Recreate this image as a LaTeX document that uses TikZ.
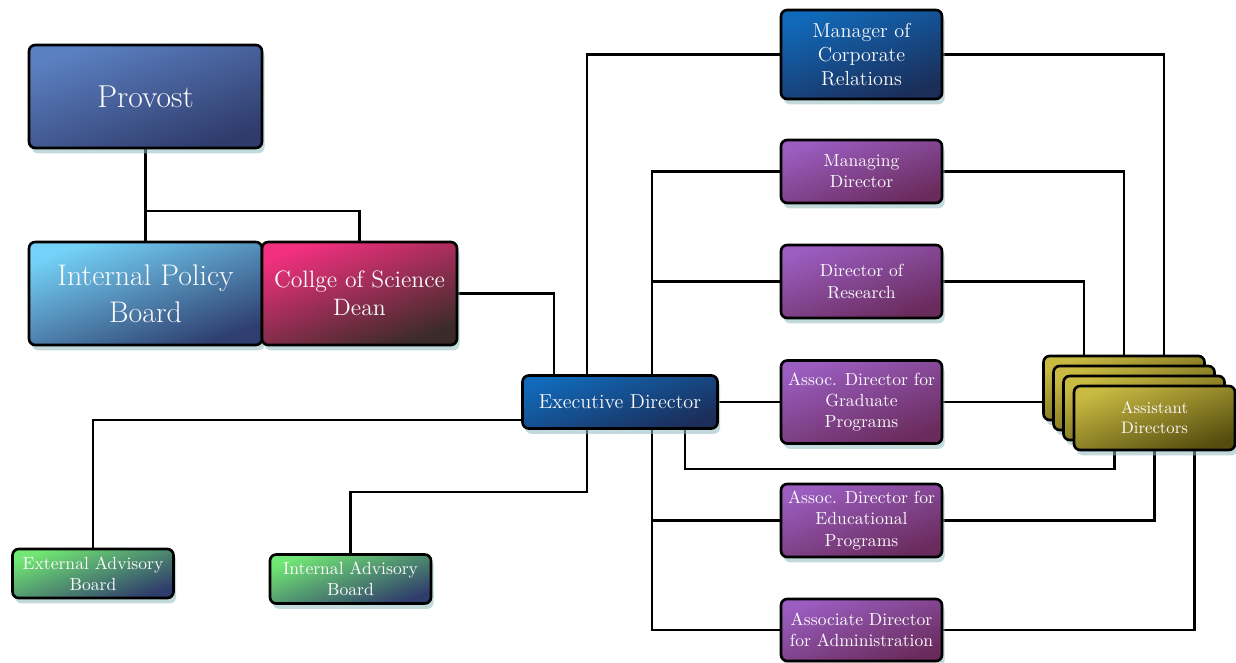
\documentclass[tikz,border=0pt]{standalone}
\usepackage{tikz}
\usetikzlibrary{shadows,backgrounds,calc}
\usepackage{xcolor}
\definecolor{provA}{HTML}{5B80C2}
\definecolor{provB}{HTML}{2F3B6B}
\definecolor{ipbA}{HTML}{74D2F8}
\definecolor{ipbB}{HTML}{2E3E6E}
\definecolor{deanA}{HTML}{F2307F}
\definecolor{deanB}{HTML}{3A2B28}
\definecolor{navyA}{HTML}{1169B9}
\definecolor{navyB}{HTML}{1B2D58}
\definecolor{purpA}{HTML}{9B5DC0}
\definecolor{purpB}{HTML}{692B5B}
\definecolor{oliveA}{HTML}{C9BA42}
\definecolor{oliveB}{HTML}{554C0E}
\definecolor{greenA}{HTML}{72E874}
\definecolor{greenB}{HTML}{2F3C6C}
\definecolor{shadowcol}{HTML}{8FBBBE}
\tikzstyle{box} = [draw=black, line width=1.5pt, rounded corners=3.5pt, text=white!97!gray, align=center, inner sep=1pt, drop shadow={shadow xshift=1.5pt, shadow yshift=-3pt, fill=shadowcol, opacity=.55}]
\tikzstyle{conn} = [line width=1.3pt, black]

\begin{document}
\begin{tikzpicture}[x=0.02cm, y=-0.02cm]
\tikzset{provost/.style={top color=provA, bottom color=provB, shading angle=20},
  policy/.style={top color=ipbA, bottom color=ipbB, shading angle=20},
  dean/.style={top color=deanA, bottom color=deanB, shading angle=20},
  navy/.style={top color=navyA, bottom color=navyB, shading angle=20},
  purple/.style={top color=purpA, bottom color=purpB, shading angle=20, minimum width=3.22cm, font=\fontsize{10}{12}\selectfont},
  olive/.style={top color=oliveA, bottom color=oliveB, shading angle=20, minimum width=3.22cm, minimum height=1.28cm},
  advisory/.style={top color=greenA, bottom color=greenB, shading angle=20, minimum width=3.22cm, minimum height=0.98cm, font=\fontsize{10}{12}\selectfont}}
\useasboundingbox (0,0) rectangle (1236,662);

% left side
\node[box, provost, minimum width=4.66cm, minimum height=2.06cm, font=\fontsize{18}{21}\selectfont] (prov) at (145.5,96.5) {Provost};
\node[box, policy, minimum width=4.66cm, minimum height=2.06cm, font=\fontsize{17}{21}\selectfont] (ipb) at (145.5,293.5) {Internal Policy\\Board};
\node[box, dean, minimum width=3.9cm, minimum height=2.06cm, font=\fontsize{13.5}{16}\selectfont] (dean) at (359.5,293.5) {Collge of Science\\Dean};
\node[box, navy, minimum width=3.9cm, minimum height=1.06cm, font=\fontsize{11.5}{13.6}\selectfont] (exec) at (620,402) {Executive Director};
\node[box, advisory] (ext) at (93,573.5) {External Advisory\\Board};
\node[box, advisory] (iab) at (350.5,579) {Internal Advisory\\Board};

% right column
\node[box, navy, minimum width=3.22cm, minimum height=1.78cm, font=\fontsize{11.5}{13.6}\selectfont] (mcr) at (861.5,54.5) {Manager of\\Corporate\\Relations};
\node[box, purple, minimum height=1.26cm] (md) at (861.5,171.5) {Managing\\Director};
\node[box, purple, minimum height=1.46cm] (dr) at (861.5,281.5) {Director of\\Research};
\node[box, purple, minimum height=1.66cm] (grad) at (861.5,402) {Assoc. Director for\\Graduate\\Programs};
\node[box, purple, minimum height=1.46cm] (edu) at (861.5,520.5) {Assoc. Director for\\Educational\\Programs};
\node[box, purple, minimum height=1.24cm] (adm) at (861.5,630) {Associate Director\\for Administration};

% stacked assistant cards
\foreach \i in {0,1,2} {
\node[box, olive] (ad\i) at (1124+10*\i,388+10*\i) {}; }
\node[box, olive, font=\fontsize{9.5}{11.5}\selectfont] (ad) at (1154.5,418) {Assistant\\Directors};

\coordinate (split) at (145,211);
\coordinate (e1) at (554,0);
\coordinate (e2) at (587,0);
\coordinate (e3) at (652,0);
\coordinate (e4) at (0,420);
\coordinate (e5) at (0,492);
\coordinate (e6) at (685,0);
\coordinate (e7) at (0,469);
\coordinate (adtl) at ([xshift=-0.8cm]ad0.north);
\coordinate (adtr) at ([xshift=0.8cm]ad0.north);
\coordinate (adbl) at ([xshift=-0.8cm]ad.south);
\coordinate (adbr) at ([xshift=0.8cm]ad.south);

\begin{scope}[on background layer]
\draw[conn] (prov) -- (ipb);
\draw[conn] (prov.south |- split) -| (dean);
\draw[conn] (dean.east) -| (exec.north -| e1);
\draw[conn] (exec.north -| e2) |- (mcr);
\draw[conn] (md.west) -| (adm.west -| e3) -- (adm.west);
\draw[conn] (dr.west) -- (dr.west -| e3);
\draw[conn] (edu.west) -- (edu.west -| e3);
\draw[conn] (exec.east) -- (grad.west);
\draw[conn] (grad.east) -- (grad.east -| ad.west);
\draw[conn] (exec.west |- e4) -| (ext);
\draw[conn] (exec.south -| e2) |- (iab.north |- e5) -- (iab.north);
\draw[conn] (exec.south -| e6) |- (adbl |- e7) -- (adbl);
\draw[conn] (mcr.east) -| (adtr);
\draw[conn] (md.east) -| (ad0.north);
\draw[conn] (dr.east) -| (adtl);
\draw[conn] (edu.east) -| (ad.south);
\draw[conn] (adm.east) -| (adbr);
\end{scope}
\end{tikzpicture}
\end{document}
